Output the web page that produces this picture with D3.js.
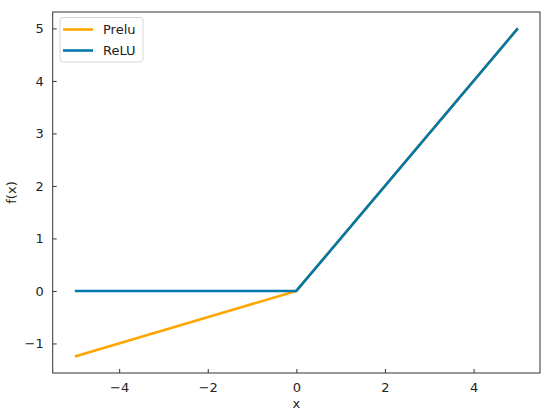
<!DOCTYPE html>
<html><head><meta charset="utf-8">
<script src="https://cdn.jsdelivr.net/npm/d3@7"></script>
<style>body{margin:0;background:#fff}svg{display:block;font-family:"DejaVu Sans",sans-serif}</style>
</head><body><svg id="c" width="550" height="415"></svg>
<script>
const xs = [-5, 0, 5];
const preluVals = [-1.25, 0, 5];
const reluVals = [0, 0, 5];
const xTicks = [-4, -2, 0, 2, 4];
const yTicks = [-1, 0, 1, 2, 3, 4, 5];
const seriesNames = ["Prelu", "ReLU"];
const colors = ["#FFA500", "#0077AD"];

const svg = d3.select("#c");
const L = 52.7, R = 540, T = 12, B = 373;
const x = d3.scaleLinear().domain([-5.5, 5.5]).range([L, R]);
const y = d3.scaleLinear().domain([-1.5625, 5.3125]).range([B, T]);
const fmt = d => (d < 0 ? "\u2212" + Math.abs(d) : String(d));

const xAxis = svg.append("g").attr("transform", `translate(0,${B})`)
  .call(d3.axisBottom(x).tickValues(xTicks).tickFormat(fmt).tickSizeInner(-4).tickSizeOuter(0).tickPadding(10));
const yAxis = svg.append("g").attr("transform", `translate(${L},0)`)
  .call(d3.axisLeft(y).tickValues(yTicks).tickFormat(fmt).tickSizeInner(-4).tickSizeOuter(0).tickPadding(9));
[xAxis, yAxis].forEach(a => {
  a.select(".domain").remove();
  a.selectAll("line").attr("stroke", "#333");
  a.selectAll("text").attr("font-size", 13).attr("fill", "#222").attr("font-family", "DejaVu Sans");
});
xAxis.selectAll("text").attr("dy", "0.71em");

const line = d3.line().x((d, i) => x(xs[i])).y(d => y(d));
[preluVals, reluVals].forEach((vals, k) => {
  svg.append("path").datum(vals).attr("d", line).attr("fill", "none")
    .attr("stroke", colors[k]).attr("stroke-width", 2.6).attr("stroke-linejoin", "round");
});

svg.append("rect").attr("x", L).attr("y", T).attr("width", R - L).attr("height", B - T)
  .attr("fill", "none").attr("stroke", "#333").attr("stroke-width", 1);

// legend
const lg = svg.append("g");
lg.append("rect").attr("x", 60).attr("y", 17.5).attr("width", 83).attr("height", 44.5).attr("rx", 3)
  .attr("fill", "#fff").attr("fill-opacity", 0.8).attr("stroke", "#d6d6d6").attr("stroke-width", 1);
seriesNames.forEach((n, k) => {
  const yy = 29.5 + k * 21;
  lg.append("line").attr("x1", 63).attr("x2", 93).attr("y1", yy).attr("y2", yy)
    .attr("stroke", colors[k]).attr("stroke-width", 2.6);
  lg.append("text").attr("x", 103).attr("y", yy).attr("dy", "0.35em").attr("font-size", 13).attr("fill", "#222").text(n);
});

svg.append("text").attr("x", x(0)).attr("y", 408).attr("text-anchor", "middle").attr("font-size", 13).attr("fill", "#222").text("x");
svg.append("text").attr("transform", `translate(16,${(T + B) / 2}) rotate(-90)`).attr("text-anchor", "middle")
  .attr("font-size", 13).attr("fill", "#222").text("f(x)");
</script></body></html>
